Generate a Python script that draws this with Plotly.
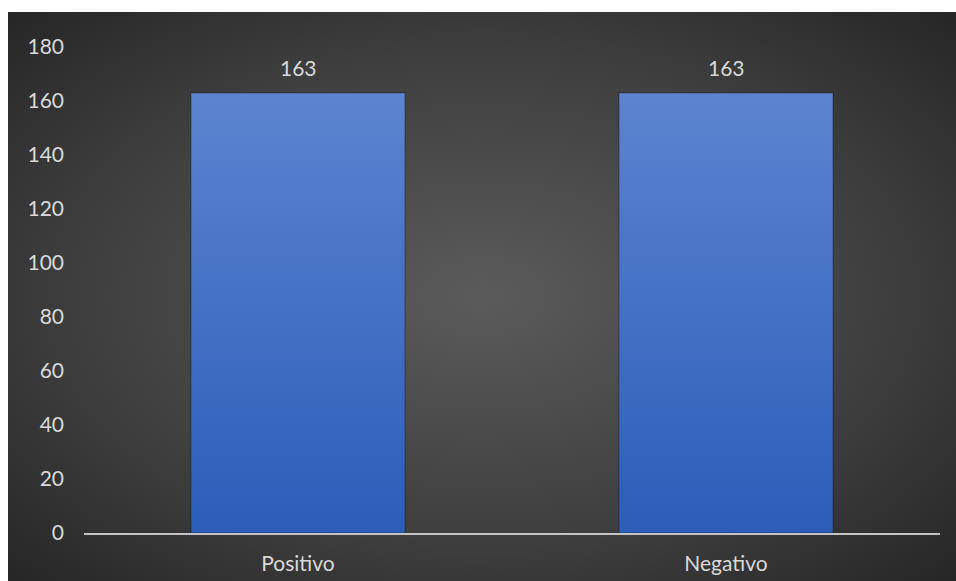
import base64
import plotly.graph_objects as go

# Chart data
categories = ["Positivo", "Negativo"]
counts = [163, 163]
y_ticks = [0, 20, 40, 60, 80, 100, 120, 140, 160, 180]

FONT = "Lato, 'Open Sans', sans-serif"
TEXT_COLOR = "#D9D9D9"

# Radial-gradient backdrop (dark charcoal with a lighter centre)
bg_svg = (
    "<svg xmlns='http://www.w3.org/2000/svg' width='948' height='569' "
    "viewBox='0 0 948 569' preserveAspectRatio='none'>"
    "<defs><radialGradient id='g' cx='50%' cy='50%' r='72%'>"
    "<stop offset='0' stop-color='#5b5b5b'/>"
    "<stop offset='0.6' stop-color='#3e3e3e'/>"
    "<stop offset='1' stop-color='#252525'/>"
    "</radialGradient></defs>"
    "<rect width='948' height='569' fill='url(#g)'/></svg>"
)
bg_uri = "data:image/svg+xml;base64," + base64.b64encode(bg_svg.encode()).decode()

fig = go.Figure()
fig.add_trace(
    go.Bar(
        x=categories,
        y=counts,
        width=0.5,
        marker=dict(color="#4472C4", line=dict(width=1, color="rgba(25,25,25,0.45)")),
        hoverinfo="skip",
        showlegend=False,
    )
)

# Value labels above each bar
for cat, val in zip(categories, counts):
    fig.add_annotation(
        x=cat, y=val, text=str(val), showarrow=False,
        xanchor="center", yanchor="bottom", yshift=11,
        font=dict(family=FONT, size=21, color=TEXT_COLOR),
    )

fig.add_layout_image(
    dict(
        source=bg_uri, xref="paper", yref="paper",
        x=(8 - 84) / 856, y=(533 - 12) / 486,
        sizex=948 / 856, sizey=569 / 486,
        xanchor="left", yanchor="top",
        sizing="stretch", layer="below",
    )
)

fig.update_layout(
    width=956, height=581,
    margin=dict(l=84, r=16, t=47, b=48, pad=0),
    paper_bgcolor="white",
    plot_bgcolor="rgba(0,0,0,0)",
    font=dict(family=FONT, size=21, color=TEXT_COLOR),
    xaxis=dict(
        range=[-0.5, 1.5], showgrid=False, zeroline=False,
        showline=True, linecolor="#C4C4C4", linewidth=2,
        ticks="", ticklabelstandoff=11, automargin=False,
        tickfont=dict(family=FONT, size=21, color=TEXT_COLOR),
        fixedrange=True,
    ),
    yaxis=dict(
        range=[0, 180], tickvals=y_ticks, showgrid=False, zeroline=False,
        showline=False, ticks="", ticklabelstandoff=19, automargin=False,
        tickfont=dict(family=FONT, size=21, color=TEXT_COLOR),
        fixedrange=True,
    ),
)

# Vertical gradient fill on the bars
post = """
var gd = document.getElementById('{plot_id}');
var svg = gd.querySelector('svg.main-svg');
var ns = 'http://www.w3.org/2000/svg';
var defs = svg.querySelector('defs') || svg.insertBefore(document.createElementNS(ns, 'defs'), svg.firstChild);
var lg = document.createElementNS(ns, 'linearGradient');
lg.setAttribute('id', 'barGrad');
lg.setAttribute('x1', '0'); lg.setAttribute('y1', '0');
lg.setAttribute('x2', '0'); lg.setAttribute('y2', '1');
[['0', '#5C84D0'], ['1', '#2C5DB9']].forEach(function (s) {
  var st = document.createElementNS(ns, 'stop');
  st.setAttribute('offset', s[0]);
  st.setAttribute('stop-color', s[1]);
  lg.appendChild(st);
});
defs.appendChild(lg);
gd.querySelectorAll('.bars path').forEach(function (p) {
  p.style.fill = 'url(#barGrad)';
});
"""

fig.write_html("out.html", post_script=post, config={"displayModeBar": False})
